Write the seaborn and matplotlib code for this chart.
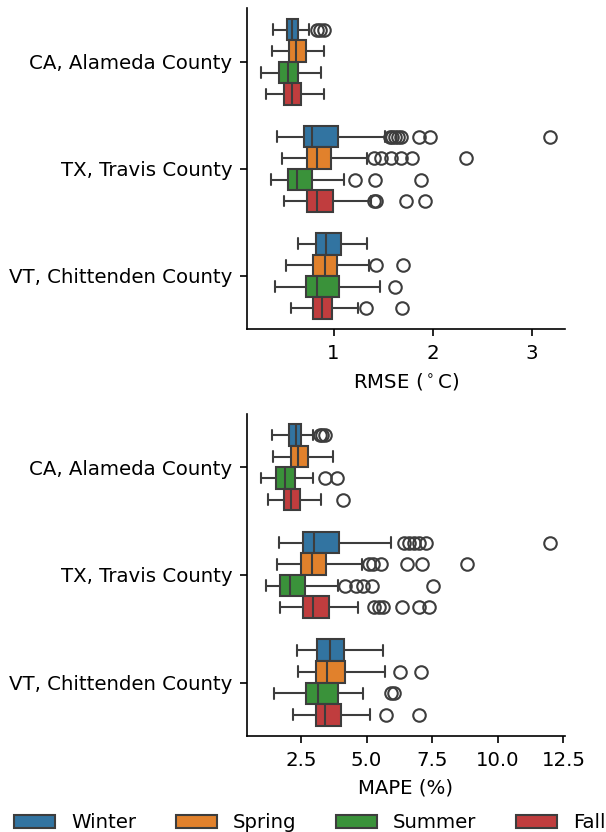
import numpy as np
import pandas as pd
import matplotlib
matplotlib.use("Agg")
import matplotlib.pyplot as plt
import seaborn as sns

counties = ["CA, Alameda County", "TX, Travis County", "VT, Chittenden County"]
seasons = ["Winter", "Spring", "Summer", "Fall"]

# Box summaries per county (rows) and season (columns): whisker low, Q1, median, Q3, whisker high
rmse_lo = [[0.393, 0.383, 0.272, 0.316], [0.427, 0.484, 0.366, 0.501], [0.646, 0.524, 0.410, 0.575]]
rmse_q1 = [[0.528, 0.555, 0.454, 0.501], [0.697, 0.730, 0.545, 0.737], [0.825, 0.788, 0.720, 0.795]]
rmse_med = [[0.579, 0.626, 0.538, 0.579], [0.778, 0.832, 0.636, 0.832], [0.919, 0.913, 0.838, 0.883]]
rmse_q3 = [[0.646, 0.724, 0.639, 0.673], [1.041, 0.977, 0.778, 0.997], [1.078, 1.037, 1.058, 0.984]]
rmse_hi = [[0.750, 0.906, 0.872, 0.903], [1.520, 1.340, 1.108, 1.378], [1.334, 1.361, 1.469, 1.243]]
rmse_fliers = [
    [[0.83, 0.86, 0.90], [], [], []],
    [[1.57, 1.59, 1.62, 1.65, 1.68, 1.86, 1.97, 3.19],
     [1.41, 1.48, 1.58, 1.68, 1.79, 2.34],
     [1.22, 1.42, 1.88],
     [1.405, 1.43, 1.73, 1.92]],
    [[], [1.43, 1.70], [1.625], [1.33, 1.69]],
]

mape_lo = [[1.41, 1.45, 1.00, 1.25], [1.67, 1.61, 1.19, 1.71], [2.37, 2.41, 1.46, 2.22]]
mape_q1 = [[2.03, 2.12, 1.57, 1.86], [2.58, 2.51, 1.72, 2.60], [3.11, 3.07, 2.69, 3.07]]
mape_med = [[2.31, 2.40, 1.89, 2.14], [3.00, 2.92, 2.08, 2.97], [3.62, 3.50, 3.16, 3.42]]
mape_q3 = [[2.50, 2.79, 2.28, 2.47], [3.96, 3.45, 2.64, 3.58], [4.16, 4.19, 3.91, 4.01]]
mape_hi = [[2.97, 3.73, 2.97, 3.26], [5.95, 4.83, 3.90, 4.66], [5.64, 5.71, 4.88, 5.14]]
mape_fliers = [
    [[3.23, 3.31, 3.42], [], [3.43, 3.87], [4.11]],
    [[6.44, 6.63, 6.82, 7.01, 7.27, 12.0],
     [5.10, 5.23, 5.55, 6.54, 7.11, 8.83],
     [4.18, 4.60, 4.85, 5.21, 7.52],
     [5.30, 5.49, 5.64, 6.35, 7.01, 7.37]],
    [[], [6.29, 7.09], [5.93, 6.06], [5.74, 7.01]],
]


def sample_from_summary(lo, q1, med, q3, hi, fliers):
    """Sample whose linear-interpolated quartiles and Tukey whiskers equal the summary."""
    k = len(fliers)
    m = k + 3
    return [lo] + [q1] * (m + k) + [med] + [q3] * m + [hi] + list(fliers)


def long_table(lo, q1, med, q3, hi, fliers):
    rows = []
    for i, county in enumerate(counties):
        for j, season in enumerate(seasons):
            vals = sample_from_summary(lo[i][j], q1[i][j], med[i][j], q3[i][j],
                                       hi[i][j], fliers[i][j])
            rows += [(county, season, v) for v in vals]
    return pd.DataFrame(rows, columns=["county", "season", "value"])


rmse_df = long_table(rmse_lo, rmse_q1, rmse_med, rmse_q3, rmse_hi, rmse_fliers)
mape_df = long_table(mape_lo, mape_q1, mape_med, mape_q3, mape_hi, mape_fliers)

sns.set_style("ticks", rc={"axes.edgecolor": "black", "text.color": "black",
                           "axes.labelcolor": "black", "xtick.color": "black",
                           "ytick.color": "black"})
plt.rcParams["font.family"] = ["DejaVu Sans"]
plt.rcParams["font.size"] = 9.5

fig = plt.figure(figsize=(606 / 150, 832 / 150), dpi=150)
ax1 = fig.add_axes([0.4076, 0.604, 0.5244, 0.386])
ax2 = fig.add_axes([0.4076, 0.115, 0.5244, 0.388])

sns.boxplot(data=rmse_df, x="value", y="county", hue="season",
            order=counties, hue_order=seasons, ax=ax1, fliersize=6)
sns.boxplot(data=mape_df, x="value", y="county", hue="season",
            order=counties, hue_order=seasons, ax=ax2, fliersize=6, legend=False)

handles = ax1.get_legend().legend_handles
ax1.get_legend().remove()

ax1.set_xlabel(r"RMSE ($^\circ$C)")
ax2.set_xlabel("MAPE (%)")
for ax in (ax1, ax2):
    ax.set_ylabel("")
    sns.despine(ax=ax)

fig.legend(handles, seasons, loc="lower left", ncol=4, frameon=False,
           handlelength=2.08, bbox_to_anchor=(-0.006, -0.022))

fig.savefig("out.png", dpi=150)
